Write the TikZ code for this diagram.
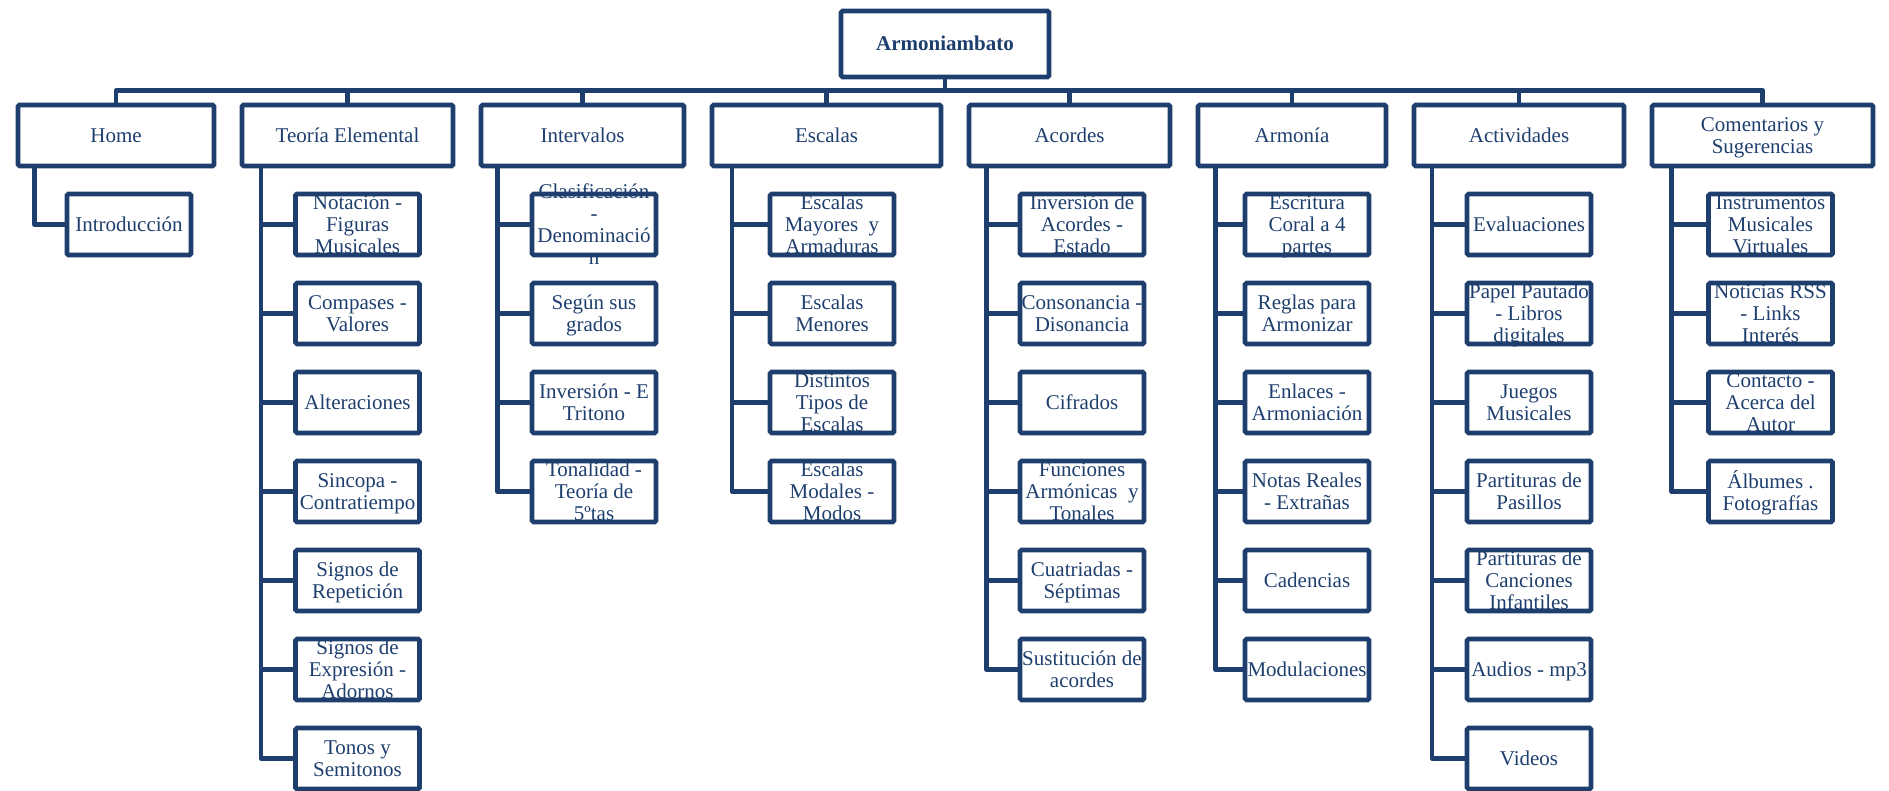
\documentclass[tikz,border=0pt]{standalone}
\usepackage{fontspec}
\setmainfont{Liberation Serif}
\definecolor{navy}{RGB}{30,63,110}
\newcommand\boxtext[1]{\vbox to 0pt{\vss\hbox{\begin{tabular}{@{}c@{}}#1\end{tabular}}\vss\kern-5pt}}
\tikzset{
  every node/.style={font=\fontsize{21}{22.3}\selectfont, text=navy},
  box/.style={draw=navy, line width=4.6pt, rectangle, rounded corners=1.5pt, inner sep=0pt, minimum height=61pt},
  child/.style={box, minimum width=124pt},
  conn/.style={draw=navy, line width=4.6pt, line join=round},
}
\newcommand\mksubtree[4]{%
  \coordinate (#1v) at ([xshift=#2pt]#1.south west);
  \foreach \t [count=\i] in {#4} {
    \node[child] (#1\i) at (#3, {224.5+89*(\i-1)}) {\boxtext{\t}};
    \draw[conn] (#1v) |- (#1\i.west);
  }
}
\begin{document}
\begin{tikzpicture}[x=1pt, y=-1pt]
\useasboundingbox (0,0) rectangle (1889,791);
% root
\node[box, minimum width=208pt, minimum height=66pt, font=\fontsize{21}{22.3}\selectfont\bfseries] (root) at (945,44) {\boxtext{Armoniambato}};
% level 1
\node[box, minimum width=196pt] (home) at (116,135.5) {\boxtext{Home}};
\node[box, minimum width=211pt] (te) at (347.5,135.5) {\boxtext{Teoría Elemental}};
\node[box, minimum width=203pt] (int) at (582.5,135.5) {\boxtext{Intervalos}};
\node[box, minimum width=229pt] (esc) at (826.5,135.5) {\boxtext{Escalas}};
\node[box, minimum width=201pt] (aco) at (1069.5,135.5) {\boxtext{Acordes}};
\node[box, minimum width=188pt] (arm) at (1292,135.5) {\boxtext{Armonía}};
\node[box, minimum width=210pt] (act) at (1519,135.5) {\boxtext{Actividades}};
\node[box, minimum width=221pt] (com) at (1762.5,135.5) {\boxtext{Comentarios y\\Sugerencias}};
% top bar
\coordinate (bar) at (0,90.7);
\draw[conn] (root.south) -- (root.south |- bar);
\draw[conn] (home.north) -- (home.north |- bar) -- (com.north |- bar) -- (com.north);
\foreach \n in {te,int,esc,aco,arm,act} {
  \draw[conn] (\n.north |- bar) -- (\n.north);
}
% subtrees
\mksubtree{home}{18.6}{129}{{Introducción}}
\mksubtree{te}{21.4}{357.5}{{Notación -\\Figuras\\Musicales},{Compases -\\Valores},{Alteraciones},{Sincopa -\\Contratiempo},{Signos de\\Repetición},{Signos de\\Expresión -\\Adornos},{Tonos y\\Semitonos}}
\mksubtree{int}{19}{594}{{Clasificación\\-\\Denominació\\n},{Según sus\\grados},{Inversión - E\\Tritono},{Tonalidad -\\Teoría de\\5ºtas}}
\mksubtree{esc}{22.4}{832}{{Escalas\\Mayores~\ y\\Armaduras},{Escalas\\Menores},{Distintos\\Tipos de\\Escalas},{Escalas\\Modales -\\Modos}}
\mksubtree{aco}{19.8}{1082}{{Inversión de\\Acordes -\\Estado},{Consonancia -\\Disonancia},{Cifrados},{Funciones\\Armónicas~\ y\\Tonales},{Cuatriadas -\\Séptimas},{Sustitución de\\acordes}}
\mksubtree{arm}{19.9}{1307}{{Escritura\\Coral a 4\\partes},{Reglas para\\Armonizar},{Enlaces -\\Armoniación},{Notas Reales\\- Extrañas},{Cadencias},{Modulaciones}}
\mksubtree{act}{20.3}{1529}{{Evaluaciones},{Papel Pautado\\- Libros\\digitales},{Juegos\\Musicales},{Partituras de\\Pasillos},{Partituras de\\Canciones\\Infantiles},{Audios - mp3},{Videos}}
\mksubtree{com}{22}{1770.5}{{Instrumentos\\Musicales\\Virtuales},{Noticias RSS\\- Links\\Interés},{Contacto -\\Acerca del\\Autor},{Álbumes .\\Fotografías}}
\end{tikzpicture}
\end{document}
